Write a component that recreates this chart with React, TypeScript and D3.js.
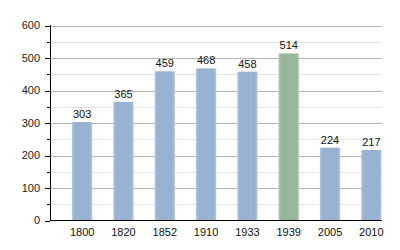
import React from "react";
import * as d3 from "d3";

const years = ["1800", "1820", "1852", "1910", "1933", "1939", "2005", "2010"];
const population = [303, 365, 459, 468, 458, 514, 224, 217];
const highlightYear = "1939";
const yTicks = [0, 100, 200, 300, 400, 500, 600];
const yMinorTicks = [50, 150, 250, 350, 450, 550];

export default function App() {
  const W = 400, H = 250;
  const left = 50, right = 382;
  const x = d3.scaleBand<string>().domain(years).range([61.5, 392]).paddingInner(0.51).paddingOuter(0.255);
  const y = d3.scaleLinear().domain([0, 600]).range([220.5, 25.5]);
  const font = "'Liberation Sans', Arial, sans-serif";
  return (
    <svg width={W} height={H} style={{ position: "absolute", left: 0, top: 0 }} fontFamily={font}>
      <defs>
        <linearGradient id="gb" x1="0" x2="1" y1="0" y2="0">
          <stop offset="0" stopColor="#b4c8e2" />
          <stop offset="0.12" stopColor="#98b2d2" />
          <stop offset="0.88" stopColor="#98b2d2" />
          <stop offset="1" stopColor="#b4c8e2" />
        </linearGradient>
        <linearGradient id="gg" x1="0" x2="1" y1="0" y2="0">
          <stop offset="0" stopColor="#b0cbb0" />
          <stop offset="0.12" stopColor="#97b698" />
          <stop offset="0.88" stopColor="#97b698" />
          <stop offset="1" stopColor="#b0cbb0" />
        </linearGradient>
      </defs>
      <rect width={W} height={H} fill="#fff" />
      {yMinorTicks.map((t) => (
        <g key={"m" + t}>
          <line x1={left} x2={right} y1={Math.round(y(t)) + 0.5} y2={Math.round(y(t)) + 0.5} stroke="#e4e4e4" />
          <line x1={47} x2={left} y1={Math.round(y(t)) + 0.5} y2={Math.round(y(t)) + 0.5} stroke="#000" />
        </g>
      ))}
      {yTicks.map((t) => (
        <g key={"t" + t}>
          {t > 0 && (
            <line x1={left} x2={right} y1={Math.round(y(t)) + 0.5} y2={Math.round(y(t)) + 0.5} stroke="#b4b4b4" />
          )}
          <line x1={45} x2={left} y1={Math.round(y(t)) + 0.5} y2={Math.round(y(t)) + 0.5} stroke="#000" />
          <text x={40} y={y(t)} dy="0.35em" textAnchor="end" fontSize={11} fill="#222">
            {t}
          </text>
        </g>
      ))}
      {years.map((yr, i) => {
        const bx = x(yr)!;
        const bw = x.bandwidth();
        const v = population[i];
        return (
          <g key={yr}>
            <rect
              x={bx}
              y={y(v)}
              width={bw}
              height={y(0) - y(v)}
              fill={yr === highlightYear ? "url(#gg)" : "url(#gb)"}
            />
            <text x={bx + bw / 2} y={y(v) - 4} textAnchor="middle" fontSize={11} fill="#111">
              {v}
            </text>
            <text x={bx + bw / 2} y={232} dy="0.35em" textAnchor="middle" fontSize={11} fill="#111">
              {yr}
            </text>
          </g>
        );
      })}
      <line x1={left + 0.5} x2={left + 0.5} y1={25} y2={221} stroke="#000" />
      <line x1={left} x2={right} y1={220.5} y2={220.5} stroke="#000" />
    </svg>
  );
}
